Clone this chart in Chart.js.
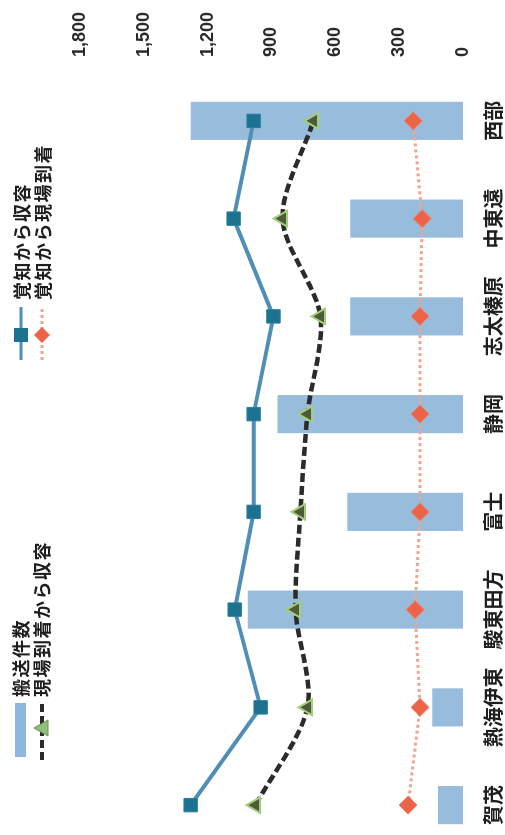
<!DOCTYPE html>
<html><head><meta charset="utf-8">
<script src="https://cdn.jsdelivr.net/npm/chart.js@4/dist/chart.umd.min.js"></script>
<style>
html,body{margin:0;padding:0;background:#fff;width:505px;height:835px;overflow:hidden;}
#wrap{position:absolute;left:0;top:0;width:835px;height:505px;transform-origin:0 0;transform:translateY(835px) rotate(-90deg);overflow:hidden;background:#fff;}
#c{position:absolute;left:-30px;top:0;}
.lg{position:absolute;font-family:"Noto Sans CJK JP";font-weight:700;font-size:18px;line-height:22px;height:22px;letter-spacing:1.5px;color:#1e1e1e;white-space:nowrap;}
#sw{position:absolute;left:0;top:0;}
</style></head><body>
<div id="wrap">
<canvas id="c" width="865" height="505"></canvas>
<svg id="sw" width="835" height="60">
  <rect x="78" y="15" width="54" height="11" fill="#8db6e0"/>
  <line x1="75" y1="42" x2="135" y2="42" stroke="#2b2b2b" stroke-width="4" stroke-dasharray="8 4"/>
  <polygon points="107,34 99,48 115,48" fill="#8cc07a" stroke="#6a8f50" stroke-width="1"/>
  <line x1="475" y1="21" x2="528" y2="21" stroke="#4f8fb5" stroke-width="3"/>
  <rect x="493" y="14" width="14" height="14" fill="#1d7290"/>
  <line x1="475" y1="42" x2="528" y2="42" stroke="#f2a58e" stroke-width="3" stroke-dasharray="3 3"/>
  <polygon points="500,34 508,42 500,50 492,42" fill="#ec6448"/>
</svg>
<div class="lg" style="left:138px;top:9px">搬送件数</div>
<div class="lg" style="left:138px;top:30px">現場到着から収容</div>
<div class="lg" style="left:535px;top:10px">覚知から収容</div>
<div class="lg" style="left:535px;top:31px">覚知から現場到着</div>
</div>
<script>
const categories = ['賀茂','熱海伊東','駿東田方','富士','静岡','志太榛原','中東遠','西部'];
const transportCount = [117,145,1012,544,872,530,530,1280];
const callToHospital = [1280,951,1073,984,984,891,1078,984];
const sceneToHospital = [975,731,787,764,731,670,848,703];
const callToScene = [258,202,225,202,202,202,192,234];
const yMin = 0, yMax = 1800, yStep = 300;

new Chart(document.getElementById('c'), {
  type: 'bar',
  data: {
    labels: categories,
    datasets: [
      {type:'bar', label:'搬送件数', data:transportCount, backgroundColor:'#98bcdc', order:10, barPercentage:0.39, categoryPercentage:1},
      {type:'line', label:'覚知から収容', data:callToHospital, borderColor:'#4f8fb5', borderWidth:4, pointStyle:'rect', pointRadius:9.5, pointBackgroundColor:'#1d7290', pointBorderColor:'#2a7f9c', pointBorderWidth:1, tension:0, order:1},
      {type:'line', label:'現場到着から収容', data:sceneToHospital, borderColor:'#2b2b2b', borderWidth:4.5, borderDash:[9,4], pointStyle:'triangle', pointRadius:9, pointBackgroundColor:'#4f5a3a', pointBorderColor:'#a3cf7c', pointBorderWidth:2, tension:0.3, order:2},
      {type:'line', label:'覚知から現場到着', data:callToScene, borderColor:'#f3a48c', borderWidth:3, borderDash:[3,3], pointStyle:'rectRot', pointRadius:9, pointBackgroundColor:'#ec6448', pointBorderColor:'#f08068', pointBorderWidth:1, tension:0, order:3}
    ]
  },
  options: {
    responsive:false, animation:false, devicePixelRatio:1, locale:'en-US',
    layout:{padding:{left:10,right:12,top:80,bottom:0}},
    plugins:{legend:{display:false}, tooltip:{enabled:false}},
    scales:{
      x:{
        grid:{display:false, drawTicks:false}, border:{display:false},
        ticks:{font:{family:'"Noto Sans CJK JP"', size:20, weight:'bold'}, color:'#1e1e1e', padding:18, maxRotation:0, autoSkip:false},
        afterFit:(s)=>{s.height=42;}
      },
      y:{
        position:'right', min:yMin, max:yMax,
        grid:{display:false, drawTicks:false}, border:{display:false},
        ticks:{stepSize:yStep, font:{family:'"Liberation Sans", Arial, sans-serif', size:18, weight:'bold'}, color:'#2a2a2a', padding:15},
        afterFit:(s)=>{s.width=60;}
      }
    }
  }
});
</script>
</body></html>
